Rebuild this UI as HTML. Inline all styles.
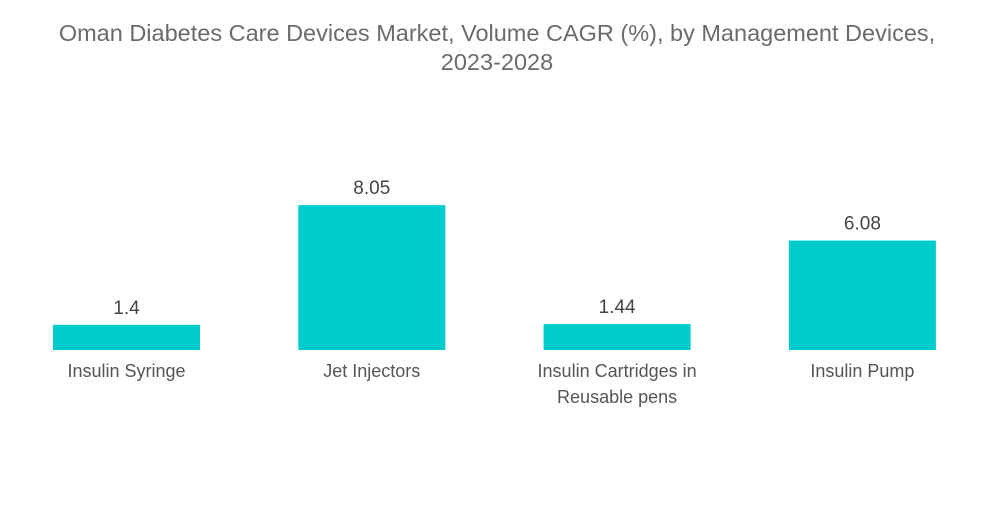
<!DOCTYPE html>
<html><head><meta charset="utf-8"><style>
body{margin:0;background:#fff;width:1000px;height:504px;overflow:hidden;font-family:"Liberation Sans",sans-serif}
</style></head><body>
<svg id="chart" width="1000" height="504" xmlns="http://www.w3.org/2000/svg">
<text x="497" y="41" text-anchor="middle" font-size="23.5" fill="#6b6b6b">Oman Diabetes Care Devices Market, Volume CAGR (%), by Management Devices,</text>
<text x="497" y="70" text-anchor="middle" font-size="23.5" fill="#6b6b6b">2023-2028</text>
<g id="bars"></g>
</svg>
<script>
const categories=[["Insulin Syringe"],["Jet Injectors"],["Insulin Cartridges in","Reusable pens"],["Insulin Pump"]];
const values=[1.4,8.05,1.44,6.08];
const labels=["1.4","8.05","1.44","6.08"];
const base=350,scale=18.0,x0=53,step=245.3,bw=147;
const y=v=>base-v*scale;
const g=document.getElementById('bars');
const ns="http://www.w3.org/2000/svg";
values.forEach((v,i)=>{
  const x=x0+i*step;
  const r=document.createElementNS(ns,'rect');
  
  
  r.setAttribute('x',x);r.setAttribute('y',y(v));r.setAttribute('width',bw);r.setAttribute('height',base-y(v));r.setAttribute('fill','#00cccc');
  g.appendChild(r);
  const t=document.createElementNS(ns,'text');
  
  
  t.setAttribute('x',x+bw/2);t.setAttribute('y',y(v)-11);t.setAttribute('text-anchor','middle');t.setAttribute('font-size','19');t.setAttribute('fill','#444');
  t.textContent=labels[i];g.appendChild(t);
  categories[i].forEach((line,j)=>{
    const c=document.createElementNS(ns,'text');
    
    
    c.setAttribute('x',x+bw/2);c.setAttribute('y',377+j*26);c.setAttribute('text-anchor','middle');c.setAttribute('font-size','18');c.setAttribute('fill','#555');
    c.textContent=line;g.appendChild(c);
  });
});
</script>
</body></html>
